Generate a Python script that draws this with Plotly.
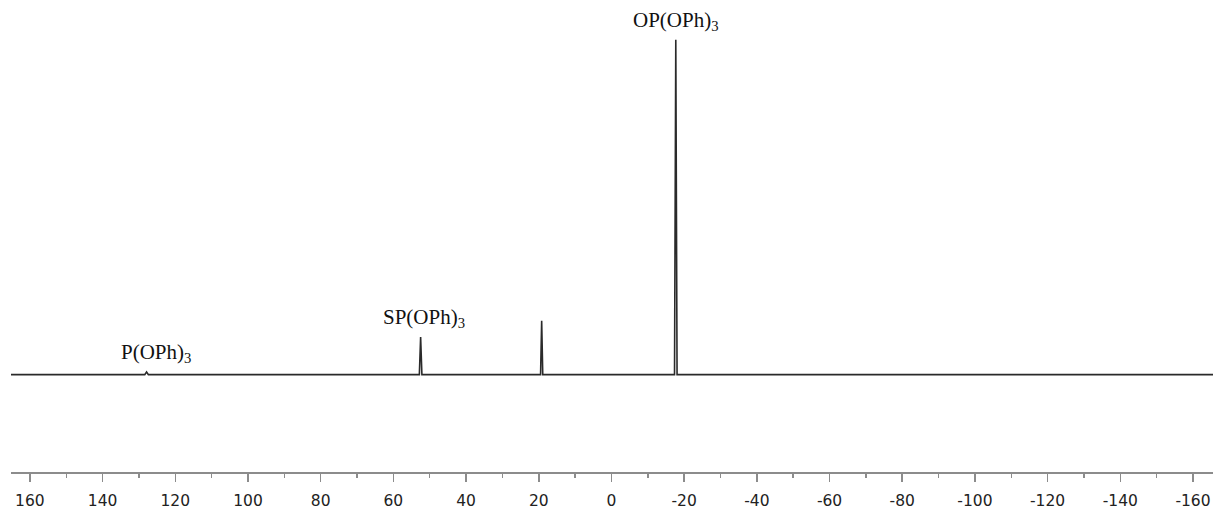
import plotly.graph_objects as go

# ---- data (31P NMR, ppm) ----
peak_ppm = [127.9, 52.5, 19.2, -17.7]
peak_height = [0.8, 11.2, 16.1, 100.0]
peak_halfwidth = [0.5, 0.35, 0.3, 0.35]
range_left = 165.2
range_right = -165.5

label_text = ["P(OPh)<sub>3</sub>", "SP(OPh)<sub>3</sub>", "OP(OPh)<sub>3</sub>"]
label_ppm = [125.2, 51.7, -17.7]
label_peak_index = [0, 1, 3]

major_ticks = [160, 140, 120, 100, 80, 60, 40, 20, 0, -20, -40, -60, -80, -100, -120, -140, -160]
major_labels = ["160", "140", "120", "100", "80", "60", "40", "20", "0", "-20", "-40", "-60",
                "-80", "-100", "-120", "-140", "-160"]
minor_ticks = [150, 130, 110, 90, 70, 50, 30, 10, -10, -30, -50, -70, -90, -110, -130, -150]

# ---- build stick spectrum (baseline + narrow peaks) ----
xs = [range_left]
ys = [0.0]
for p, h, w in sorted(zip(peak_ppm, peak_height, peak_halfwidth), key=lambda t: -t[0]):
    xs += [p + w, p, p - w]
    ys += [0.0, h, 0.0]
xs.append(range_right)
ys.append(0.0)

fig = go.Figure()
fig.add_trace(go.Scatter(x=xs, y=ys, mode="lines",
                         line=dict(color="#2a2a2a", width=1.6),
                         hoverinfo="skip", showlegend=False))

for txt, lp, idx in zip(label_text, label_ppm, label_peak_index):
    fig.add_annotation(x=lp, y=peak_height[idx], xref="x", yref="y",
                       text=txt, showarrow=False, yanchor="bottom",
                       yshift=4,
                       font=dict(family="Liberation Serif", size=21, color="#111"))

fig.update_layout(
    width=1213, height=510, autosize=False,
    margin=dict(l=11, r=0, t=0, b=35, pad=0),
    plot_bgcolor="white", paper_bgcolor="white",
    xaxis=dict(range=[range_left, range_right], showgrid=False, zeroline=False,
               showline=True, linecolor="#8c8c8c", linewidth=1.5,
               ticks="outside", ticklen=8, tickwidth=1.5, tickcolor="#8c8c8c",
               tickvals=major_ticks, ticktext=major_labels,
               ticklabelstandoff=6,
               tickfont=dict(family="DejaVu Sans", size=15.5, color="#222"),
               minor=dict(tickvals=minor_ticks, ticks="outside", ticklen=4,
                          tickwidth=1.5, tickcolor="#8c8c8c", showgrid=False),
               fixedrange=True),
    yaxis=dict(range=[-29.08, 111.87], visible=False, showgrid=False,
               zeroline=False, fixedrange=True),
)

# remove the page's default body margin so the figure fills the window exactly
page_fix = ("document.body.style.margin='0';"
            "document.body.style.overflow='hidden';"
            "document.documentElement.style.overflow='hidden';")

fig.write_html("out.html", default_width="1213px", default_height="510px",
               post_script=page_fix,
               config={"displayModeBar": False, "staticPlot": True})
